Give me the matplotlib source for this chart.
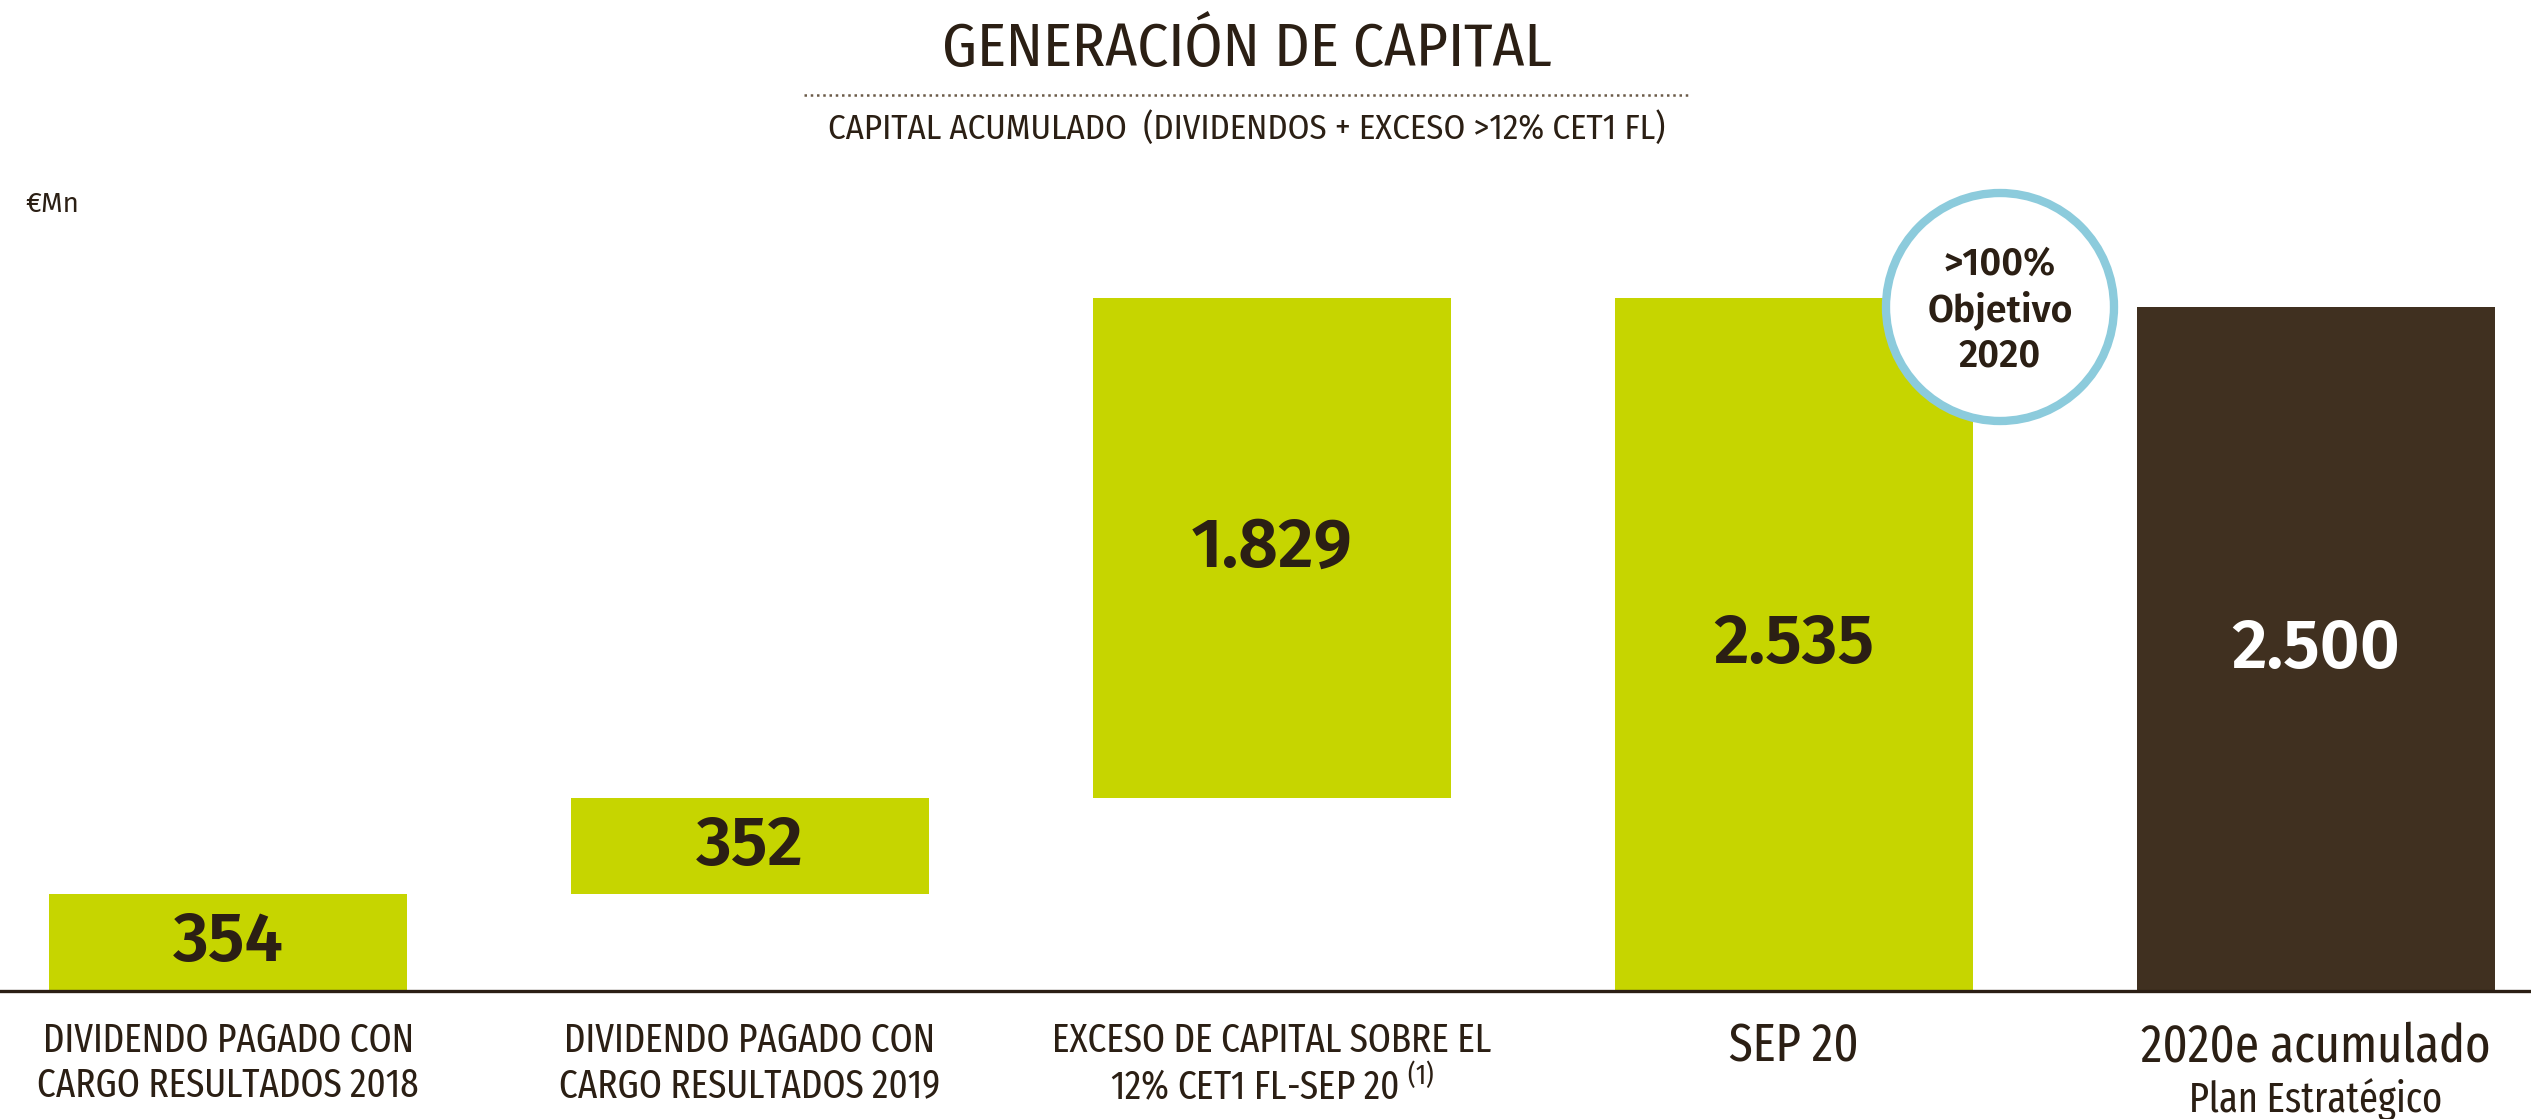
import matplotlib.pyplot as plt
from matplotlib.patches import Circle
from matplotlib.transforms import blended_transform_factory

W, H = 2531, 1119
DARK = '#2b1f14'
GREEN = '#c6d500'
BROWN = '#403020'
BLUE = '#8ccbdc'
COND = ['Fira Sans Condensed', 'DejaVu Sans']
XCOND = ['Fira Sans Extra Condensed', 'DejaVu Sans']
FIRA = ['Fira Sans', 'DejaVu Sans']

plt.rcParams['mathtext.fontset'] = 'custom'
plt.rcParams['mathtext.rm'] = 'Fira Sans Extra Condensed'

# data (millones de euros)
cat_line1 = ['DIVIDENDO PAGADO CON', 'DIVIDENDO PAGADO CON',
             'EXCESO DE CAPITAL SOBRE EL', 'SEP 20', '2020e acumulado']
cat_line2 = ['CARGO RESULTADOS 2018', 'CARGO RESULTADOS 2019',
             r'12% CET1 FL-SEP 20 $^{\mathregular{(1)}}$', '', 'Plan Estratégico']
values = [354, 352, 1829, 2535, 2500]
value_labels = ['354', '352', '1.829', '2.535', '2.500']
is_total = [False, False, False, True, True]
bar_colors = [GREEN, GREEN, GREEN, GREEN, BROWN]
label_colors = [DARK, DARK, DARK, DARK, 'white']

# waterfall bottoms
bottoms = []
run = 0
for v, t in zip(values, is_total):
    if t:
        bottoms.append(0)
    else:
        bottoms.append(run)
        run += v

fig = plt.figure(figsize=(W / 100, H / 100), dpi=100)
base_px = 991
ax = fig.add_axes([0, (H - base_px) / H, 1, (base_px - 100) / H])
x = list(range(len(values)))
ax.bar(x, values, bottom=bottoms, width=0.686, color=bar_colors, zorder=2)
ax.set_xlim(-0.4368, 4.412)
ax.set_ylim(0, 891 / 0.2735)
ax.axhline(0, color=DARK, lw=2.4, zorder=3, clip_on=False)
ax.axis('off')

for xi, v, b, lab, c in zip(x, values, bottoms, value_labels, label_colors):
    ax.text(xi, b + v / 2, lab, ha='center', va='center', fontsize=50,
            fontweight='semibold', family=FIRA, color=c, zorder=4)

# category labels under the bars
tr = blended_transform_factory(ax.transData, fig.transFigure)
for i, (l1, l2) in enumerate(zip(cat_line1, cat_line2)):
    big = i >= 3
    ax.text(i, 1 - (1047 if big else 1041) / H, l1, transform=tr, ha='center',
            va='center', fontsize=38 if big else 29, family=XCOND, color=DARK,
            clip_on=False)
    if l2:
        ax.text(i, 1 - (1100 if big else 1086) / H, l2, transform=tr, ha='center',
                va='center', fontsize=30 if big else 29, family=XCOND,
                color=DARK, clip_on=False)

# overlay in pixel coordinates for the headings and the badge
ov = fig.add_axes([0, 0, 1, 1], zorder=5)
ov.set_xlim(0, W)
ov.set_ylim(H, 0)
ov.axis('off')
ov.patch.set_alpha(0)

ov.text(1247, 50, 'GENERACIÓN DE CAPITAL', ha='center', va='center',
        fontsize=44, family=COND, color=DARK)
ov.plot([804, 1688], [95, 95], ls=(0, (1, 1.5)), color='#6b5a48', lw=1.8)
ov.text(1247, 128, 'CAPITAL ACUMULADO  (DIVIDENDOS + EXCESO >12% CET1 FL)',
        ha='center', va='center', fontsize=25, family=COND, color=DARK)
ov.text(25, 204, '€Mn', ha='left', va='center', fontsize=20,
        family=FIRA, color=DARK)

ov.add_patch(Circle((2000, 307), 114, facecolor='white', edgecolor=BLUE, lw=6))
ov.text(2000, 310, '>100%\nObjetivo\n2020', ha='center', va='center',
        fontsize=27, fontweight='semibold', family=FIRA, color=DARK,
        linespacing=1.25)

fig.savefig('out.png', dpi=100)
